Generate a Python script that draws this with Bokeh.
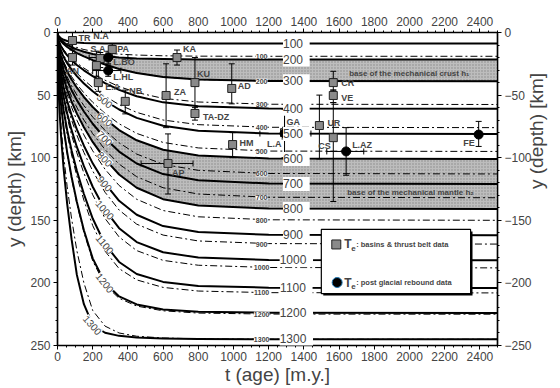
from bokeh.plotting import figure
from bokeh.models import Range1d, LinearAxis, FixedTicker, ColumnDataSource, LabelSet, Label
from bokeh.core.properties import value
from bokeh.embed import file_html
from bokeh.resources import INLINE
import math

FONT = "Liberation Sans"

# ---- isotherm depths [km] versus lithospheric age [m.y.] ----
ages = [0, 2, 6, 12, 20, 35, 55, 80, 110, 150, 200, 270, 350, 450, 600, 800, 1200, 2500]
temperatures = [100, 200, 300, 400, 500, 600, 700, 800, 900, 1000, 1100, 1200, 1300]

# model 1 (solid lines)
solid_depths = [
    [0, 1.5, 2.6, 3.7, 4.6, 5.8, 6.8, 7.5, 8.0, 8.3, 8.5, 8.7, 8.8, 8.8, 8.8, 8.8, 8.8, 8.8],
    [0, 1.9, 3.3, 4.7, 6.0, 7.9, 9.8, 11.7, 13.5, 15.4, 17.2, 18.8, 19.9, 20.7, 21.2, 21.5, 21.6, 21.6],
    [0, 2.2, 3.8, 5.4, 7.0, 9.2, 11.6, 13.9, 16.4, 19.1, 22.1, 25.6, 29.1, 32.3, 35.5, 37.6, 38.8, 39.0],
    [0, 3.5, 6.0, 8.6, 11.0, 14.6, 18.3, 22.1, 25.9, 30.2, 34.9, 40.5, 45.8, 50.9, 55.8, 58.9, 60.7, 61.0],
    [0, 4.7, 8.1, 11.5, 14.9, 19.6, 24.6, 29.7, 34.8, 40.7, 46.9, 54.5, 61.5, 68.2, 74.5, 78.5, 80.7, 81.0],
    [0, 6.0, 10.3, 14.6, 18.8, 24.9, 31.2, 37.6, 44.1, 51.5, 59.5, 69.0, 77.9, 86.1, 93.6, 98.2, 100.6, 101.0],
    [0, 7.3, 12.6, 17.8, 23.0, 30.5, 38.2, 46.1, 54.0, 63.1, 72.9, 84.5, 95.1, 104.6, 113.1, 118.0, 120.6, 121.0],
    [0, 8.7, 15.1, 21.4, 27.6, 36.6, 45.8, 55.3, 64.8, 75.7, 87.4, 101.1, 113.4, 124.0, 133.1, 138.1, 140.6, 141.0],
    [0, 10.4, 18.1, 25.6, 33.0, 43.7, 54.8, 66.0, 77.4, 90.4, 104.5, 120.6, 134.4, 145.6, 154.6, 159.3, 161.6, 162.0],
    [0, 12.3, 21.4, 30.2, 39.0, 51.6, 64.7, 78.0, 91.4, 106.8, 123.2, 141.6, 156.3, 167.4, 175.5, 179.8, 181.7, 182.0],
    [0, 14.9, 25.8, 36.5, 47.1, 62.3, 78.1, 94.2, 110.5, 129.0, 148.6, 169.1, 183.3, 192.9, 199.2, 202.4, 203.8, 204.0],
    [0, 18.3, 31.6, 44.7, 57.7, 76.3, 95.7, 115.4, 135.3, 158.0, 180.4, 199.9, 210.8, 217.2, 221.2, 223.0, 223.9, 224.0],
    [0, 26.1, 45.2, 63.9, 82.5, 109.2, 136.9, 165.1, 193.6, 217.0, 233.6, 239.8, 242.3, 243.7, 244.4, 244.8, 245.0, 245.0],
]

# model 2 (dash-dot lines)
dashdot_depths = [
    [0, 1.7, 3.0, 4.2, 5.4, 7.0, 8.7, 10.4, 12.0, 13.6, 15.0, 16.3, 17.3, 18.0, 18.6, 18.9, 19.0, 19.0],
    [0, 2.2, 3.8, 5.4, 7.0, 9.2, 11.6, 13.9, 16.4, 19.1, 22.1, 25.6, 29.1, 32.3, 35.5, 37.6, 38.8, 39.0],
    [0, 3.3, 5.7, 8.0, 10.4, 13.7, 17.2, 20.8, 24.4, 28.4, 32.9, 38.1, 43.2, 47.9, 52.6, 55.5, 57.3, 57.5],
    [0, 4.4, 7.6, 10.7, 13.8, 18.3, 23.0, 27.7, 32.5, 37.9, 43.9, 50.9, 57.6, 63.8, 69.9, 73.6, 75.7, 76.0],
    [0, 5.6, 9.6, 13.6, 17.6, 23.3, 29.2, 35.2, 41.3, 48.2, 55.7, 64.6, 72.9, 80.6, 87.8, 92.2, 94.7, 95.0],
    [0, 6.7, 11.7, 16.5, 21.3, 28.2, 35.4, 42.6, 50.0, 58.4, 67.5, 78.2, 88.1, 97.1, 105.3, 110.1, 112.6, 113.0],
    [0, 8.1, 14.0, 19.8, 25.5, 33.8, 42.4, 51.1, 59.9, 69.9, 80.8, 93.5, 105.1, 115.2, 124.0, 129.0, 131.6, 132.0],
    [0, 9.4, 16.4, 23.1, 29.9, 39.5, 49.5, 59.7, 70.0, 81.8, 94.5, 109.2, 122.2, 133.2, 142.2, 147.2, 149.6, 150.0],
    [0, 11.1, 19.2, 27.1, 35.0, 46.3, 58.0, 69.9, 82.0, 95.8, 110.6, 127.6, 141.8, 153.1, 161.8, 166.5, 168.6, 169.0],
    [0, 13.0, 22.5, 31.8, 41.0, 54.2, 68.0, 82.0, 96.1, 112.3, 129.6, 148.5, 163.3, 174.2, 182.0, 185.9, 187.7, 188.0],
    [0, 15.5, 26.8, 37.9, 48.9, 64.7, 81.1, 97.8, 114.7, 134.0, 154.2, 174.6, 188.6, 197.6, 203.6, 206.5, 207.8, 208.0],
    [0, 18.5, 32.0, 45.2, 58.4, 77.2, 96.8, 116.7, 136.9, 159.6, 182.4, 201.7, 212.3, 218.5, 222.3, 224.1, 224.9, 225.0],
    [0, 23.5, 40.7, 57.5, 74.3, 98.3, 123.2, 148.6, 174.2, 200.0, 222.0, 234.5, 240.0, 242.6, 244.0, 244.7, 245.0, 245.0],
]

# ---- effective elastic thickness Te: basins & thrust belts ----
basin_names = ["TR", "AN", "N.A", "S.A", "PA", "E.A", "NB", "ZA", "KA", "KU",
               "TA-DZ", "AD", "AP", "HM", "GA", "UR", "CR", "VE", "CS"]
basin_age = [85, 85, 243, 221, 311, 232, 385, 617, 679, 781,
             781, 990, 628, 995, 1290, 1488, 1567, 1567, 1567]
basin_te = [6.4, 20.0, 20.8, 26.4, 13.6, 40.0, 55.0, 50.3, 20.0, 40.0,
            64.7, 44.7, 104.6, 89.5, 80.0, 74.3, 40.0, 50.3, 84.0]
basin_te_low = [0, 14, 16, 15, 9, 30, 46, 25, 14, 20, 60, 25, 81, 80, 61, 50, 31, 46, 56]
basin_te_high = [13, 26, 28, 35, 19, 47, 65, 76, 26, 62, 70, 57, 129, 100, 85, 101, 46, 56, 135]
basin_age_err_names = ["AP"]
basin_age_low = [475]
basin_age_high = [770]

# ---- Te from post-glacial rebound ----
glacial_names = ["L.BO", "L.HL", "L.A", "L.AZ", "FE"]
glacial_age = [288, 288, 1290, 1640, 2393]
glacial_te = [20.0, 30.4, 80.7, 95.0, 81.5]
glacial_te_low = [15, 26, 61, 76, 71]
glacial_te_high = [25, 35, 100, 114, 91]
glacial_age_err_names = ["L.BO", "L.HL", "L.A", "L.AZ"]
glacial_age_low = [180, 200, 1150, 1530]
glacial_age_high = [400, 360, 1440, 1740]

# ---- label placement (screen px: dx right, dy down, alignment) ----
label_place = {
    "TR": (6, -3, "left"), "AN": (0, 13, "center"), "N.A": (-7, -23, "left"),
    "S.A": (-6, -17, "left"), "PA": (5, -1, "left"), "E.A": (7, 4, "left"),
    "NB": (4, -10, "left"), "ZA": (8, -3, "left"), "KA": (6, -9, "left"),
    "KU": (2, -9, "left"), "TA-DZ": (8, 3, "left"), "AD": (6, -2, "left"),
    "AP": (4, 10, "left"), "HM": (7, -2, "left"), "GA": (2, -11, "left"),
    "UR": (8, -3, "left"), "CR": (8, 0, "left"), "VE": (8, 3, "left"),
    "CS": (-15, 8, "left"), "L.BO": (5, 4, "left"), "L.HL": (5, 6, "left"),
    "L.A": (-3, 10, "right"), "L.AZ": (6, -6, "left"), "FE": (-4, 8, "right"),
}

BAND_FILL = "#bdbdbd"

p = figure(width=560, height=388, x_range=Range1d(0, 2500), y_range=Range1d(250, 0),
           output_backend="svg", toolbar_location=None,
           min_border_left=57, min_border_right=61, min_border_top=32, min_border_bottom=43,
           background_fill_color="white", border_fill_color="white")
p.grid.visible = False
p.outline_line_color = "black"
p.outline_line_width = 1.5
p.extra_y_ranges = {"neg": Range1d(-250, 0)}

bottom_axis = p.below[0]
left_axis = p.left[0]

x_ticker = FixedTicker(ticks=list(range(0, 2401, 200)), minor_ticks=list(range(0, 2501, 50)))
bottom_axis.ticker = x_ticker
bottom_axis.axis_label = "t (age) [m.y.]"
left_axis.ticker = FixedTicker(ticks=list(range(0, 251, 50)), minor_ticks=list(range(0, 251, 10)))
left_axis.axis_label = "y (depth) [km]"

top_axis = LinearAxis(ticker=x_ticker)
p.add_layout(top_axis, "above")
right_axis = LinearAxis(y_range_name="neg", axis_label="y (depth) [km]",
                        ticker=FixedTicker(ticks=list(range(-250, 1, 50)),
                                           minor_ticks=list(range(-250, 1, 10))))
right_axis.axis_label_orientation = math.pi / 2
p.add_layout(right_axis, "right")

for ax in [bottom_axis, left_axis, top_axis, right_axis]:
    ax.major_label_text_font = FONT
    ax.major_label_text_font_size = "12px"
    ax.major_label_standoff = 3
    ax.major_tick_out = 4
    ax.major_tick_in = 0
    ax.minor_tick_out = 2
    ax.minor_tick_in = 0
    ax.axis_line_width = 1.2
    ax.axis_label_text_font = FONT
    ax.axis_label_text_font_size = "19px"
    ax.axis_label_text_font_style = "normal"
    ax.axis_label_standoff = 2
bottom_axis.major_label_standoff = 2
bottom_axis.axis_label_standoff = 0

# mechanical crust / mantle bands between isotherms
iso = dict(zip(temperatures, solid_depths))
dd = dict(zip(temperatures, dashdot_depths))
for upper, lower in [(200, 300), (600, 800)]:
    p.varea(x=ages, y1=iso[upper], y2=iso[lower], fill_color=BAND_FILL,
            hatch_pattern="dot", hatch_color="#8a8a8a", hatch_scale=3, hatch_weight=1)

for T in temperatures:
    p.line(ages, dd[T], line_color="black", line_width=1, line_dash="7 3 2 3")
for T in temperatures:
    p.line(ages, iso[T], line_color="black", line_width=2, line_join="round")

# isotherm labels on the flat part
big = ColumnDataSource(dict(x=[1357] * len(temperatures), y=[iso[T][-1] for T in temperatures],
                            text=[f" {T} " for T in temperatures]))
p.add_layout(LabelSet(source=big, x="x", y="y", text="text", text_align="center",
                      text_baseline="middle", text_font=value(FONT), text_font_size="12px",
                      background_fill_color="white"))
small = ColumnDataSource(dict(x=[1160] * len(temperatures), y=[dd[T][-1] for T in temperatures],
                              text=[str(T) for T in temperatures]))
p.add_layout(LabelSet(source=small, x="x", y="y", text="text", text_align="center",
                      text_baseline="middle", text_font=value(FONT), text_font_size="7px",
                      text_font_style="bold", background_fill_color="white"))

# isotherm labels on the curved part
curve_label_temps = [500, 600, 700, 800, 900, 1000, 1100, 1200, 1300]
curve_label_index = [11, 11, 11, 11, 11, 11, 11, 11, 10]
curve_label_angle = [-0.7, -0.72, -0.78, -0.8, -0.85, -0.85, -0.88, -0.9, -0.85]
curved = ColumnDataSource(dict(
    x=[ages[i] for i in curve_label_index],
    y=[iso[T][i] for T, i in zip(curve_label_temps, curve_label_index)],
    text=[str(T) for T in curve_label_temps], angle=curve_label_angle))
p.add_layout(LabelSet(source=curved, x="x", y="y", text="text", angle="angle",
                      text_align="center", text_baseline="middle", text_font=value(FONT),
                      text_font_size="10px", background_fill_color="white"))

# band captions
p.add_layout(Label(x=1657, y=32.7, text="base of the mechanical crust h\u2081", text_font=FONT,
                   text_font_size="8px", text_font_style="bold", text_baseline="middle"))
p.add_layout(Label(x=1646, y=127.8, text="base of the mechanical mantle h\u2082", text_font=FONT,
                   text_font_size="8px", text_font_style="bold", text_baseline="middle"))

# error bars
def vbars(xs, lo, hi):
    p.segment(x0=xs, y0=lo, x1=xs, y1=hi, line_color="black", line_width=1)
    p.scatter(x=xs + xs, y=lo + hi, marker="dash", size=6, line_color="black", line_width=1)

def hbars(ys, lo, hi):
    p.segment(x0=lo, y0=ys, x1=hi, y1=ys, line_color="black", line_width=1)
    p.scatter(x=lo + hi, y=ys + ys, marker="dash", angle=math.pi / 2, size=6,
              line_color="black", line_width=1)

vbars(basin_age, basin_te_low, basin_te_high)
vbars(glacial_age, glacial_te_low, glacial_te_high)
hbars([basin_te[basin_names.index(n)] for n in basin_age_err_names], basin_age_low, basin_age_high)
hbars([glacial_te[glacial_names.index(n)] for n in glacial_age_err_names], glacial_age_low, glacial_age_high)

p.scatter(basin_age, basin_te, marker="square", size=8, fill_color="#8a8a8a", line_color="#222222")
p.scatter(glacial_age, glacial_te, marker="circle", size=9, fill_color="black", line_color="black")

# point labels
names = basin_names + glacial_names
xs = basin_age + glacial_age
ys = basin_te + glacial_te
for align in ["left", "right", "center"]:
    sel = [i for i, n in enumerate(names) if label_place[n][2] == align]
    src = ColumnDataSource(dict(x=[xs[i] for i in sel], y=[ys[i] for i in sel],
                                text=[names[i] for i in sel],
                                xo=[label_place[names[i]][0] for i in sel],
                                yo=[-label_place[names[i]][1] for i in sel]))
    p.add_layout(LabelSet(source=src, x="x", y="y", text="text", x_offset="xo", y_offset="yo",
                          text_align=align, text_baseline="middle", text_font=value(FONT),
                          text_font_size="9px", text_font_style="bold"))

# key box
p.quad(left=[1510], right=[2358], top=[159], bottom=[210], fill_color="black", line_color=None)
p.quad(left=[1499], right=[2347], top=[157.3], bottom=[208.5], fill_color="white",
       line_color="black", line_width=1.2)
p.scatter([1584], [169.3], marker="square", size=9, fill_color="#8a8a8a", line_color="#222222")
p.scatter([1589], [199.7], marker="circle", size=10, fill_color="black")
for ky, txt in [(169.3, ": basins & thrust belt data"), (199.7, ": post glacial rebound data")]:
    p.add_layout(Label(x=1629, y=ky, text="T", text_font=FONT, text_font_size="12px",
                       text_font_style="bold", text_baseline="middle"))
    p.add_layout(Label(x=1629, y=ky, x_offset=7, y_offset=-4, text="e", text_font=FONT,
                       text_font_size="8px", text_font_style="bold", text_baseline="middle"))
    p.add_layout(Label(x=1629, y=ky, x_offset=12, text=txt, text_font=FONT,
                       text_font_size="7.5px", text_font_style="bold", text_baseline="middle"))

open("out.html", "w").write(file_html(p, INLINE))
